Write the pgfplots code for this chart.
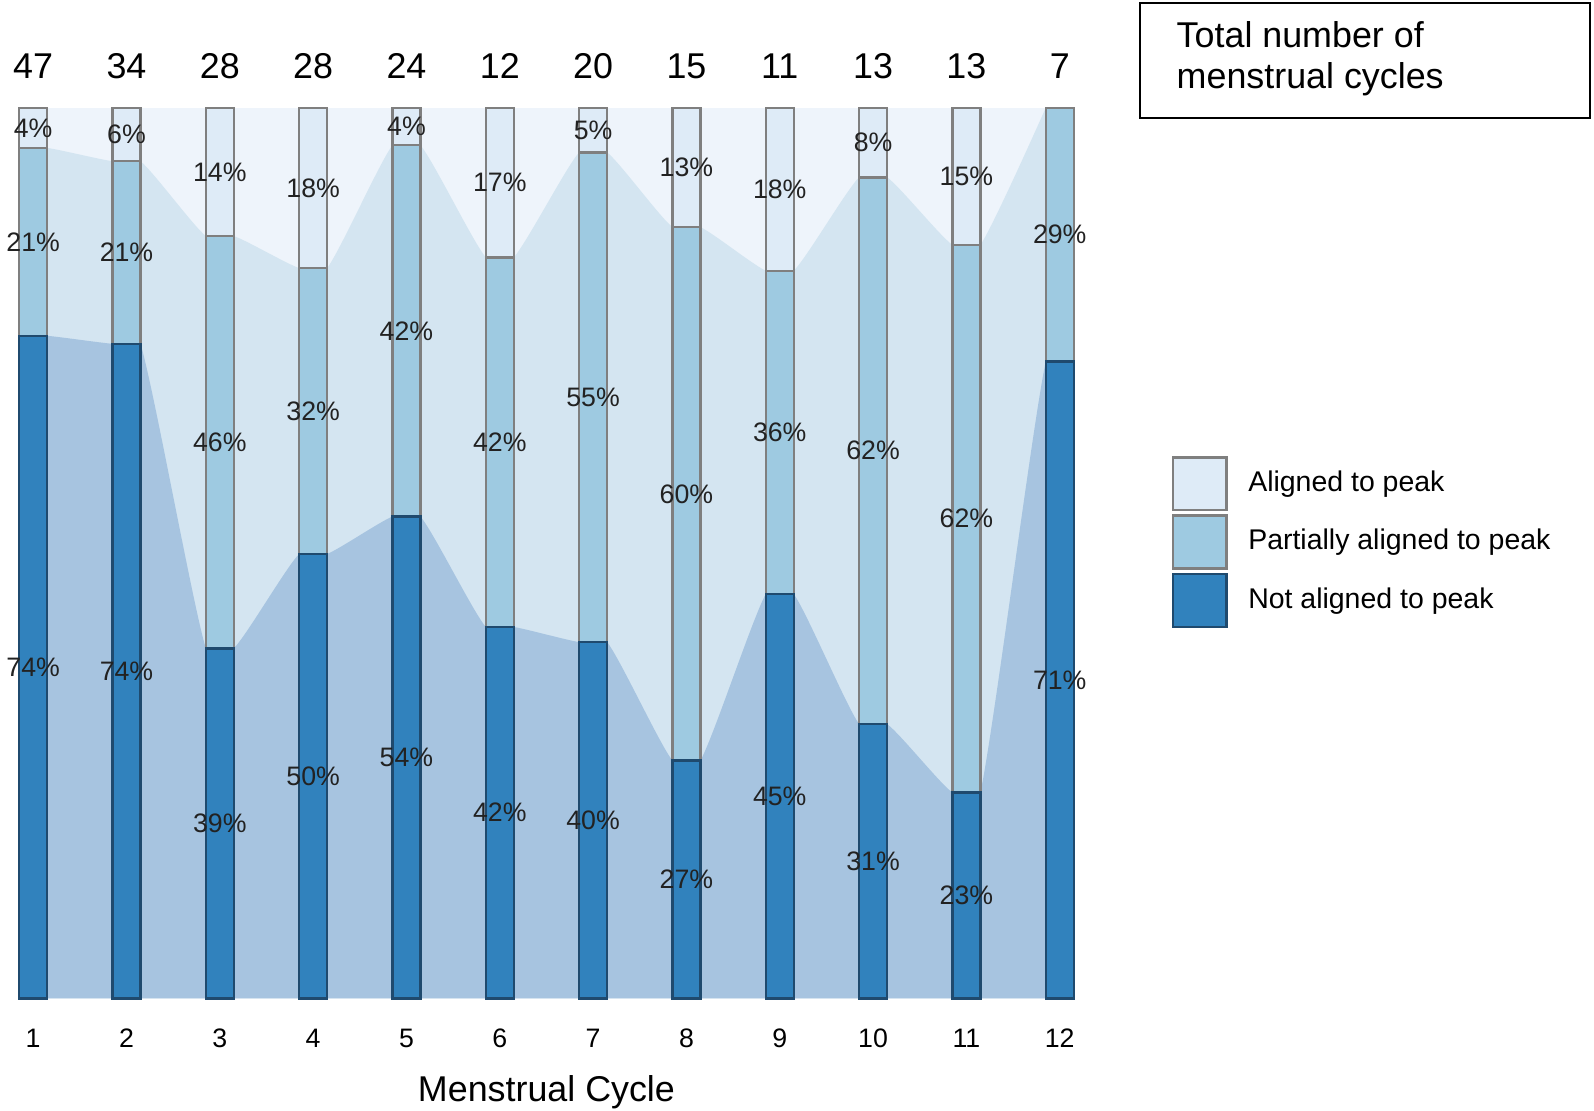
\documentclass[border=0pt]{standalone}
\usepackage{pgfplots}
\pgfplotsset{compat=1.18}
\usepackage{pgfplotstable}
\usepackage{fontspec}
\setmainfont{Liberation Sans}

\definecolor{alignbar}{HTML}{DEEBF7}
\definecolor{partbar}{HTML}{9ECAE1}
\definecolor{notbar}{HTML}{3182BD}
\definecolor{alignarea}{HTML}{EEF4FB}
\definecolor{partarea}{HTML}{D4E5F1}
\definecolor{notarea}{HTML}{A7C4E0}
\definecolor{edgegray}{HTML}{7F7F7F}
\definecolor{edgedark}{HTML}{1F4A6E}
\definecolor{lbl}{HTML}{222222}

% d = top of "not aligned", p = top of "partially aligned", t = total
\pgfplotstableread{
x  d    p     t    n  ld lp la
1  74.4 95.5  100  47 74 21 4
2  73.5 94.0  100  34 74 21 6
3  39.3 85.6  100  28 39 46 14
4  49.9 82.0  100  28 50 32 18
5  54.1 95.8  100  24 54 42 4
6  41.7 83.2  100  12 42 42 17
7  40.0 95.0  100  20 40 55 5
8  26.7 86.6  100  15 27 60 13
9  45.4 81.7  100  11 45 36 18
10 30.8 92.2  100  13 31 62 8
11 23.1 84.6  100  13 23 62 15
12 71.5 100   100  7  71 29 0
}\cycles

\pgfplotsset{
  mybar/.style={ybar, bar width=0.3, bar shift=0pt, line width=0.25mm,
    legend image code/.code={\draw[##1] (0cm,-0.264cm) rectangle (0.539cm,0.264cm);}},
  pct/.style={draw=none, mark=none, forget plot, point meta=explicit symbolic,
    nodes near coords={\pgfplotspointmeta\%},
    nodes near coords style={anchor=center, text=lbl, font=\fontsize{7.6}{9}\selectfont}},
}

\begin{document}
\begin{tikzpicture}
\useasboundingbox (0,0) rectangle (15.94,-11.10);

\begin{axis}[
    at={(0.173cm,-9.983cm)}, anchor=south west,
    scale only axis,
    width=105.83mm, height=89.05mm,
    xmin=0.83, xmax=12.17,
    ymin=0, ymax=100,
    clip=false,
    axis line style={draw=none},
    tick style={draw=none},
    ytick=\empty,
    xtick={1,...,12},
    /pgf/number format/assume math mode=true,
    xticklabel style={font=\fontsize{7.6}{9}\selectfont, yshift=-1.83mm},
    xlabel={Menstrual Cycle},
    xlabel style={at={(axis description cs:0.5,0)}, anchor=center, yshift=-9.35mm,
      font=\fontsize{10.2}{12}\selectfont},
    legend style={draw=none, fill=none, at={(1.090,0.6096)}, anchor=north west,
      inner sep=0pt, row sep=0.3mm, column sep=2.03mm,
      nodes={inner sep=0pt, font=\fontsize{8.1}{10}\selectfont}},
    legend cell align=left,
]

% background flows
\addplot[fill=alignarea, draw=none, forget plot] coordinates {
    (0.85,100) (12.15,100)} \closedcycle;
\addplot[fill=partarea, draw=none, smooth, forget plot] coordinates {
    (0.85,95.5) (1.15,95.5) (1.85,94.0) (2.15,94.0) (2.85,85.6) (3.15,85.6)
    (3.85,82.0) (4.15,82.0) (4.85,95.8) (5.15,95.8) (5.85,83.2) (6.15,83.2)
    (6.85,95.0) (7.15,95.0) (7.85,86.6) (8.15,86.6) (8.85,81.7) (9.15,81.7)
    (9.85,92.2) (10.15,92.2) (10.85,84.6) (11.15,84.6) (11.85,100)
} \closedcycle;
\addplot[fill=notarea, draw=none, smooth, forget plot] coordinates {
    (0.85,74.4) (1.15,74.4) (1.85,73.5) (2.15,73.5) (2.85,39.3) (3.15,39.3)
    (3.85,49.9) (4.15,49.9) (4.85,54.1) (5.15,54.1) (5.85,41.7) (6.15,41.7)
    (6.85,40.0) (7.15,40.0) (7.85,26.7) (8.15,26.7) (8.85,45.4) (9.15,45.4)
    (9.85,30.8) (10.15,30.8) (10.85,23.1) (11.15,23.1) (11.85,71.5) (12.15,71.5)
} \closedcycle;

% bars
\addplot[mybar, fill=alignbar, draw=edgegray] table[x=x, y=t] {\cycles};
\addlegendentry{Aligned to peak}
\addplot[mybar, fill=partbar, draw=edgegray] table[x=x, y=p] {\cycles};
\addlegendentry{Partially aligned to peak}
\addplot[mybar, fill=notbar, draw=edgedark] table[x=x, y=d] {\cycles};
\addlegendentry{Not aligned to peak}

% percentage labels
\addplot[pct] table[x=x, y expr=\thisrow{d}/2, meta=ld] {\cycles};
\addplot[pct] table[x=x, y expr=(\thisrow{d}+\thisrow{p})/2, meta=lp] {\cycles};
\addplot[pct, skip coords between index={11}{12}] table[x=x, y expr=(\thisrow{p}+\thisrow{t})/2, meta=la] {\cycles};

% totals above the bars
\addplot[draw=none, mark=none, forget plot, point meta=explicit symbolic,
    nodes near coords,
    nodes near coords style={anchor=center, yshift=4.17mm, font=\fontsize{10.2}{12}\selectfont}]
    table[x=x, y=t, meta=n] {\cycles};

\end{axis}

\draw[line width=0.2mm] (11.40,-0.03) rectangle (15.90,-1.18);
\node[anchor=west, align=left, font=\fontsize{10.2}{11.7}\selectfont, inner sep=0pt]
    at (11.76,-0.59) {Total number of\\menstrual cycles};
\end{tikzpicture}
\end{document}
